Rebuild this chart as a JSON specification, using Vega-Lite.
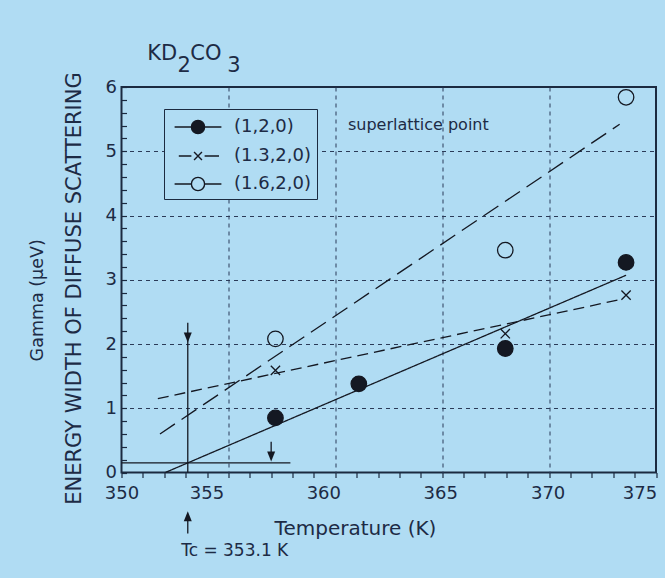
{
  "$schema": "https://vega.github.io/schema/vega-lite/v6.json",
  "autosize": {"type": "none"},
  "padding": {"left": 121.5, "top": 87, "right": 9, "bottom": 105.5},
  "width": 534.5,
  "height": 385.5,
  "background": "#b0dcf3",
  "config": {
    "font": "DejaVu Sans",
    "view": {"stroke": "#1b2a40", "strokeWidth": 2},
    "axis": {
      "domain": false,
      "labelFont": "DejaVu Sans",
      "titleFont": "DejaVu Sans",
      "labelColor": "#1d2b45",
      "titleColor": "#1d2b45",
      "tickColor": "#1b2a40",
      "tickWidth": 1.2,
      "gridColor": "#2b3b58",
      "gridDash": [4, 4],
      "gridWidth": 1,
      "titleFontWeight": "normal"
    },
    "legend": {
      "labelFont": "DejaVu Sans",
      "labelFontSize": 18,
      "labelColor": "#1d2b45"
    }
  },
  "datasets": {
    "points": [
      {"series": "(1,2,0)", "T": 357.2, "G": 0.85},
      {"series": "(1,2,0)", "T": 361.1, "G": 1.38},
      {"series": "(1,2,0)", "T": 367.95, "G": 1.93},
      {"series": "(1,2,0)", "T": 373.6, "G": 3.27},
      {"series": "(1.3,2,0)", "T": 357.2, "G": 1.59},
      {"series": "(1.3,2,0)", "T": 367.95, "G": 2.16},
      {"series": "(1.3,2,0)", "T": 373.6, "G": 2.76},
      {"series": "(1.6,2,0)", "T": 357.2, "G": 2.08},
      {"series": "(1.6,2,0)", "T": 367.95, "G": 3.46},
      {"series": "(1.6,2,0)", "T": 373.6, "G": 5.84}
    ],
    "fits": [
      {"series": "(1,2,0)", "T": 352.05, "G": 0},
      {"series": "(1,2,0)", "T": 373.6, "G": 3.07},
      {"series": "(1.3,2,0)", "T": 351.7, "G": 1.15},
      {"series": "(1.3,2,0)", "T": 373.3, "G": 2.69},
      {"series": "(1.6,2,0)", "T": 351.8, "G": 0.6},
      {"series": "(1.6,2,0)", "T": 373.3, "G": 5.42}
    ],
    "rules": [
      {"T": 353.1, "G": 0, "T2": 353.1, "G2": 2.33},
      {"T": 350, "G": 0.15, "T2": 357.9, "G2": 0.15},
      {"T": 357.0, "G": 0.48, "T2": 357.0, "G2": 0.24},
      {"T": 353.1, "G": -0.95, "T2": 353.1, "G2": -0.68}
    ],
    "heads": [
      {"T": 353.1, "G": 2.1, "dir": "down"},
      {"T": 357.0, "G": 0.25, "dir": "down"},
      {"T": 353.1, "G": -0.68, "dir": "up"}
    ],
    "formula": [
      {"txt": "KD", "T": 351.2, "G": 6.42},
      {"txt": "2", "T": 352.62, "G": 6.23},
      {"txt": "CO", "T": 353.22, "G": 6.42},
      {"txt": "3", "T": 354.95, "G": 6.23}
    ],
    "notes": [
      {"txt": "superlattice point", "T": 360.59, "G": 5.33}
    ],
    "tc": [
      {"txt": "Tc = 353.1 K", "T": 352.79, "G": -1.3}
    ],
    "ylabel": [
      {"txt": "Gamma (µeV)", "T": 346.33, "G": 2.68}
    ]
  },
  "encoding": {
    "x": {
      "field": "T",
      "type": "quantitative",
      "scale": {"domain": [350, 375], "nice": false, "zero": false},
      "axis": {
        "values": [350, 351, 352, 353, 354, 355, 356, 357, 358, 359, 360, 361, 362, 363, 364, 365, 366, 367, 368, 369, 370, 371, 372, 373, 374, 375],
        "tickCount": 100,
        "labelOverlap": false,
        "format": "d",
        "labelExpr": "datum.value % 5 === 0 ? datum.label : ''",
        "labelFlush": false,
        "tickSize": 5,
        "labelFontSize": 18,
        "labelPadding": 7,
        "labelOffset": {
          "condition": [
            {"test": "datum.value === 355", "value": -22},
            {"test": "datum.value === 360", "value": -12},
            {"test": "datum.value === 365", "value": -2},
            {"test": "datum.value === 370", "value": -1.5},
            {"test": "datum.value === 375", "value": -16.5}
          ],
          "value": 0
        },
        "grid": true,
        "gridOpacity": {"condition": {"test": "datum.value % 5 === 0 && datum.value > 350 && datum.value < 375", "value": 1}, "value": 0},
        "title": "Temperature (K)",
        "titleFontSize": 20,
        "titleX": 233.5,
        "titleY": 61.5,
        "titleAlign": "center",
        "titleBaseline": "alphabetic"
      }
    },
    "y": {
      "field": "G",
      "type": "quantitative",
      "scale": {"domain": [0, 6], "nice": false, "zero": false},
      "axis": {
        "values": [0, 0.2, 0.4, 0.6, 0.8, 1, 1.2, 1.4, 1.6, 1.8, 2, 2.2, 2.4, 2.6, 2.8, 3, 3.2, 3.4, 3.6, 3.8, 4, 4.2, 4.4, 4.6, 4.8, 5, 5.2, 5.4, 5.6, 5.8, 6],
        "tickCount": 100,
        "tickMinStep": 0.05,
        "labelOverlap": false,
        "labelExpr": "datum.value % 1 === 0 ? format(datum.value, 'd') : ''",
        "tickSize": -5,
        "labelFontSize": 18,
        "labelPadding": 10,
        "grid": true,
        "gridOpacity": {"condition": {"test": "datum.value % 1 === 0 && datum.value > 0 && datum.value < 6", "value": 1}, "value": 0},
        "title": "ENERGY WIDTH OF DIFFUSE SCATTERING",
        "titleFontSize": 21,
        "titleAngle": 270,
        "titleX": -41.5,
        "titleY": 201,
        "titleAlign": "center",
        "titleBaseline": "alphabetic"
      }
    }
  },
  "layer": [
    {
      "data": {"name": "fits"},
      "mark": {"type": "line", "stroke": "#141822", "strokeWidth": 1.3},
      "encoding": {
        "detail": {"field": "series", "type": "nominal"},
        "strokeDash": {
          "field": "series",
          "type": "nominal",
          "scale": {"range": [[1, 0], [11, 6], [18, 8]]},
          "legend": null
        }
      }
    },
    {
      "data": {"name": "rules"},
      "mark": {"type": "rule", "stroke": "#141822", "strokeWidth": 1.3},
      "encoding": {
        "x2": {"field": "T2"},
        "y2": {"field": "G2"}
      }
    },
    {
      "data": {"name": "heads"},
      "transform": [{"filter": "datum.dir === 'down'"}],
      "mark": {"type": "point", "shape": "M-0.8,-1L0.8,-1L0,1Z", "size": 100, "filled": true, "fill": "#141822", "strokeWidth": 0, "opacity": 1}
    },
    {
      "data": {"name": "heads"},
      "transform": [{"filter": "datum.dir === 'up'"}],
      "mark": {"type": "point", "shape": "M-0.8,1L0.8,1L0,-1Z", "size": 100, "filled": true, "fill": "#141822", "strokeWidth": 0, "opacity": 1}
    },
    {
      "data": {"name": "points"},
      "mark": {"type": "point", "stroke": "#141822", "strokeWidth": 1.3, "opacity": 1, "size": 240},
      "encoding": {
        "shape": {
          "field": "series",
          "type": "nominal",
          "scale": {"domain": ["(1,2,0)", "(1.3,2,0)", "(1.6,2,0)"], "range": ["circle", "M-0.6,-0.6L0.6,0.6M-0.6,0.6L0.6,-0.6", "circle"]},
          "legend": null
        },
        "fill": {
          "field": "series",
          "type": "nominal",
          "scale": {"domain": ["(1,2,0)", "(1.3,2,0)", "(1.6,2,0)"], "range": ["#141822", "transparent", "transparent"]},
          "legend": null
        }
      }
    },
    {
      "data": {"name": "points"},
      "transform": [{"filter": "false"}],
      "mark": {"type": "point", "stroke": "#141822", "strokeWidth": 1.4, "opacity": 1, "size": 576},
      "encoding": {
        "shape": {
          "field": "series",
          "type": "nominal",
          "scale": {
            "domain": ["(1,2,0)", "(1.3,2,0)", "(1.6,2,0)"],
            "range": [
              "M-1.95,0H1.95M0.55,0A0.55,0.55,0,1,1,-0.55,0A0.55,0.55,0,1,1,0.55,0Z",
              "M-1.6,0H-0.55M0.55,0H1.75M-0.33,-0.33L0.33,0.33M-0.33,0.33L0.33,-0.33",
              "M-1.95,0H-0.55M0.55,0H1.95M0.55,0A0.55,0.55,0,1,1,-0.55,0A0.55,0.55,0,1,1,0.55,0Z"
            ]
          },
          "legend": {
            "title": null,
            "orient": "none",
            "legendX": 42.5,
            "legendY": 22,
            "padding": 5,
            "strokeColor": "#1b2a40",
            "fillColor": "#b0dcf3",
            "symbolSize": 576,
            "symbolStrokeWidth": 1.4,
            "symbolOffset": 16,
            "labelOffset": 23,
            "rowPadding": 6,
            "labelFontSize": 18,
            "labelFont": "DejaVu Sans",
            "labelColor": "#1d2b45"
          }
        },
        "fill": {
          "field": "series",
          "type": "nominal",
          "scale": {"domain": ["(1,2,0)", "(1.3,2,0)", "(1.6,2,0)"], "range": ["#141822", "transparent", "transparent"]},
          "legend": {
            "title": null,
            "orient": "none",
            "legendX": 42.5,
            "legendY": 22,
            "padding": 5,
            "strokeColor": "#1b2a40",
            "fillColor": "#b0dcf3",
            "symbolSize": 576,
            "symbolStrokeWidth": 1.4,
            "symbolOffset": 16,
            "labelOffset": 23,
            "rowPadding": 6,
            "labelFontSize": 18,
            "labelFont": "DejaVu Sans",
            "labelColor": "#1d2b45"
          }
        }
      }
    },
    {
      "data": {"name": "formula"},
      "mark": {"type": "text", "align": "left", "baseline": "alphabetic", "fontSize": 21, "font": "DejaVu Sans", "color": "#1d2b45"},
      "encoding": {"text": {"field": "txt"}}
    },
    {
      "data": {"name": "notes"},
      "mark": {"type": "text", "align": "left", "baseline": "alphabetic", "fontSize": 16, "font": "DejaVu Sans", "color": "#1d2b45"},
      "encoding": {"text": {"field": "txt"}}
    },
    {
      "data": {"name": "tc"},
      "mark": {"type": "text", "align": "left", "baseline": "alphabetic", "fontSize": 17, "font": "DejaVu Sans", "color": "#1d2b45"},
      "encoding": {"text": {"field": "txt"}}
    },
    {
      "data": {"name": "ylabel"},
      "mark": {"type": "text", "align": "center", "baseline": "alphabetic", "angle": 270, "fontSize": 17.5, "font": "DejaVu Sans", "color": "#1d2b45"},
      "encoding": {"text": {"field": "txt"}}
    }
  ],
  "resolve": {"scale": {"shape": "independent", "fill": "independent"}}
}
